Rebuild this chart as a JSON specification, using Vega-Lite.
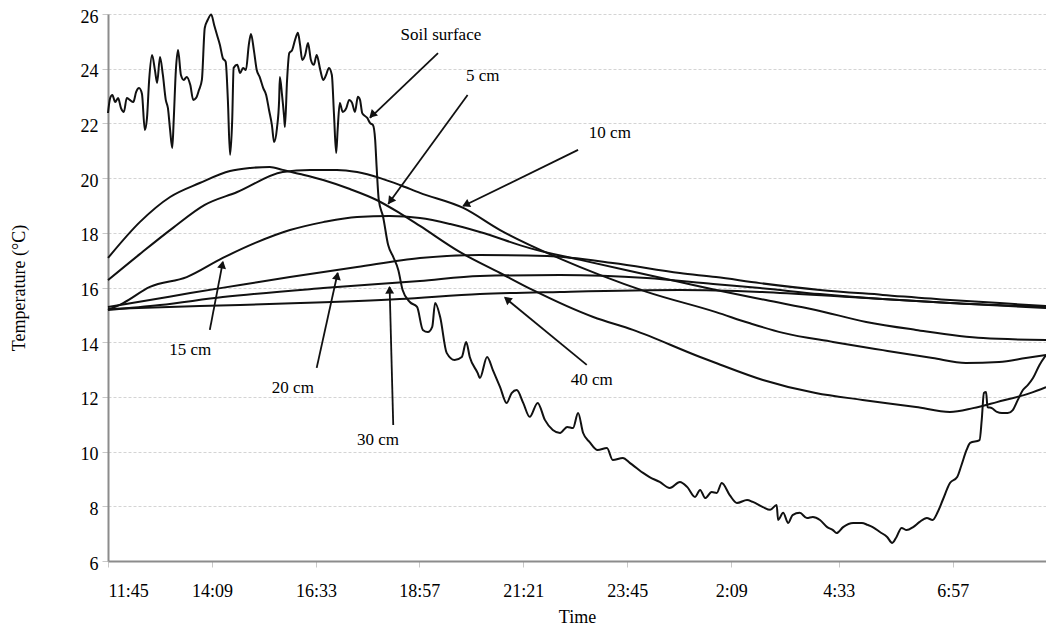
{
  "$schema": "https://vega.github.io/schema/vega-lite/v6.json",
  "width": 938,
  "height": 547,
  "autosize": {"type": "none"},
  "padding": {"left": 108, "top": 14, "right": 0, "bottom": 69},
  "background": "white",
  "config": {"view": {"stroke": null}, "font": "Liberation Serif"},
  "datasets": {
    "temps": [
      {"depth":"Soil surface","t":0,"temp":22.38},{"depth":"Soil surface","t":3,"temp":22.93},{"depth":"Soil surface","t":6,"temp":23.04},{"depth":"Soil surface","t":10,"temp":22.78},{"depth":"Soil surface","t":14,"temp":22.93},{"depth":"Soil surface","t":18,"temp":22.56},{"depth":"Soil surface","t":22,"temp":22.42},{"depth":"Soil surface","t":26,"temp":22.93},{"depth":"Soil surface","t":30,"temp":22.86},{"depth":"Soil surface","t":35,"temp":22.78},{"depth":"Soil surface","t":39,"temp":23.15},{"depth":"Soil surface","t":43,"temp":23.29},{"depth":"Soil surface","t":47,"temp":23.08},{"depth":"Soil surface","t":51,"temp":21.76},{"depth":"Soil surface","t":54,"temp":22.2},{"depth":"Soil surface","t":57,"temp":23.59},{"depth":"Soil surface","t":61,"temp":24.5},{"depth":"Soil surface","t":65,"temp":23.95},{"depth":"Soil surface","t":68,"temp":23.48},{"depth":"Soil surface","t":72,"temp":24.43},{"depth":"Soil surface","t":76,"temp":23.77},{"depth":"Soil surface","t":80,"temp":22.86},{"depth":"Soil surface","t":83,"temp":22.56},{"depth":"Soil surface","t":86,"temp":21.76},{"depth":"Soil surface","t":89,"temp":21.1},{"depth":"Soil surface","t":91,"temp":22.12},{"depth":"Soil surface","t":94,"temp":23.95},{"depth":"Soil surface","t":97,"temp":24.68},{"depth":"Soil surface","t":101,"temp":23.77},{"depth":"Soil surface","t":105,"temp":23.59},{"depth":"Soil surface","t":109,"temp":23.7},{"depth":"Soil surface","t":114,"temp":23.4},{"depth":"Soil surface","t":118,"temp":22.86},{"depth":"Soil surface","t":122,"temp":22.93},{"depth":"Soil surface","t":126,"temp":23.22},{"depth":"Soil surface","t":130,"temp":23.59},{"depth":"Soil surface","t":134,"temp":25.49},{"depth":"Soil surface","t":138,"temp":25.78},{"depth":"Soil surface","t":143,"temp":25.98},{"depth":"Soil surface","t":147,"temp":25.6},{"depth":"Soil surface","t":151,"temp":25.23},{"depth":"Soil surface","t":155,"temp":24.87},{"depth":"Soil surface","t":159,"temp":24.39},{"depth":"Soil surface","t":163,"temp":24.25},{"depth":"Soil surface","t":166,"temp":22.86},{"depth":"Soil surface","t":169,"temp":20.85},{"depth":"Soil surface","t":172,"temp":22.12},{"depth":"Soil surface","t":174,"temp":24.03},{"depth":"Soil surface","t":179,"temp":24.14},{"depth":"Soil surface","t":183,"temp":23.84},{"depth":"Soil surface","t":187,"temp":24.03},{"depth":"Soil surface","t":191,"temp":23.95},{"depth":"Soil surface","t":195,"temp":24.87},{"depth":"Soil surface","t":198,"temp":25.27},{"depth":"Soil surface","t":202,"temp":24.68},{"depth":"Soil surface","t":206,"temp":23.95},{"depth":"Soil surface","t":210,"temp":23.7},{"depth":"Soil surface","t":215,"temp":23.29},{"depth":"Soil surface","t":219,"temp":23.04},{"depth":"Soil surface","t":223,"temp":22.49},{"depth":"Soil surface","t":227,"temp":21.94},{"depth":"Soil surface","t":230,"temp":21.32},{"depth":"Soil surface","t":234,"temp":21.83},{"depth":"Soil surface","t":237,"temp":22.86},{"depth":"Soil surface","t":238,"temp":23.7},{"depth":"Soil surface","t":241,"temp":23.04},{"depth":"Soil surface","t":244,"temp":22.2},{"depth":"Soil surface","t":245,"temp":21.87},{"depth":"Soil surface","t":248,"temp":23.59},{"depth":"Soil surface","t":251,"temp":24.57},{"depth":"Soil surface","t":255,"temp":24.68},{"depth":"Soil surface","t":259,"temp":25.05},{"depth":"Soil surface","t":263,"temp":25.31},{"depth":"Soil surface","t":266,"temp":24.87},{"depth":"Soil surface","t":269,"temp":24.32},{"depth":"Soil surface","t":273,"temp":24.5},{"depth":"Soil surface","t":277,"temp":24.94},{"depth":"Soil surface","t":281,"temp":24.32},{"depth":"Soil surface","t":285,"temp":24.14},{"depth":"Soil surface","t":289,"temp":24.5},{"depth":"Soil surface","t":294,"temp":23.95},{"depth":"Soil surface","t":298,"temp":23.59},{"depth":"Soil surface","t":302,"temp":23.77},{"depth":"Soil surface","t":306,"temp":24.03},{"depth":"Soil surface","t":310,"temp":23.77},{"depth":"Soil surface","t":313,"temp":22.31},{"depth":"Soil surface","t":316,"temp":20.92},{"depth":"Soil surface","t":318,"temp":21.76},{"depth":"Soil surface","t":321,"temp":22.75},{"depth":"Soil surface","t":325,"temp":22.42},{"depth":"Soil surface","t":330,"temp":22.56},{"depth":"Soil surface","t":334,"temp":22.86},{"depth":"Soil surface","t":338,"temp":22.75},{"depth":"Soil surface","t":342,"temp":22.42},{"depth":"Soil surface","t":346,"temp":22.97},{"depth":"Soil surface","t":349,"temp":22.86},{"depth":"Soil surface","t":352,"temp":22.38},{"depth":"Soil surface","t":354,"temp":22.31},{"depth":"Soil surface","t":359,"temp":22.2},{"depth":"Soil surface","t":363,"temp":22.01},{"depth":"Soil surface","t":367,"temp":21.94},{"depth":"Soil surface","t":370,"temp":21.39},{"depth":"Soil surface","t":372,"temp":20.41},{"depth":"Soil surface","t":375,"temp":19.2},{"depth":"Soil surface","t":381,"temp":18.58},{"depth":"Soil surface","t":388,"temp":17.55},{"depth":"Soil surface","t":395,"temp":17.12},{"depth":"Soil surface","t":402,"temp":16.64},{"depth":"Soil surface","t":408,"temp":15.91},{"depth":"Soil surface","t":418,"temp":15.47},{"depth":"Soil surface","t":428,"temp":15.29},{"depth":"Soil surface","t":436,"temp":14.45},{"depth":"Soil surface","t":443,"temp":14.37},{"depth":"Soil surface","t":449,"temp":14.56},{"depth":"Soil surface","t":453,"temp":15.43},{"depth":"Soil surface","t":460,"temp":14.92},{"depth":"Soil surface","t":469,"temp":13.61},{"depth":"Soil surface","t":480,"temp":13.35},{"depth":"Soil surface","t":490,"temp":13.46},{"depth":"Soil surface","t":496,"temp":14.01},{"depth":"Soil surface","t":501,"temp":13.46},{"depth":"Soil surface","t":512,"temp":12.87},{"depth":"Soil surface","t":515,"temp":12.69},{"depth":"Soil surface","t":525,"temp":13.46},{"depth":"Soil surface","t":533,"temp":12.98},{"depth":"Soil surface","t":543,"temp":12.36},{"depth":"Soil surface","t":552,"temp":11.78},{"depth":"Soil surface","t":559,"temp":12.14},{"depth":"Soil surface","t":566,"temp":12.25},{"depth":"Soil surface","t":575,"temp":11.78},{"depth":"Soil surface","t":584,"temp":11.27},{"depth":"Soil surface","t":595,"temp":11.78},{"depth":"Soil surface","t":605,"temp":11.16},{"depth":"Soil surface","t":616,"temp":10.79},{"depth":"Soil surface","t":626,"temp":10.68},{"depth":"Soil surface","t":636,"temp":10.9},{"depth":"Soil surface","t":644,"temp":10.86},{"depth":"Soil surface","t":651,"temp":11.41},{"depth":"Soil surface","t":658,"temp":10.68},{"depth":"Soil surface","t":667,"temp":10.35},{"depth":"Soil surface","t":678,"temp":10.06},{"depth":"Soil surface","t":691,"temp":10.13},{"depth":"Soil surface","t":699,"temp":9.69},{"depth":"Soil surface","t":713,"temp":9.77},{"depth":"Soil surface","t":723,"temp":9.58},{"depth":"Soil surface","t":732,"temp":9.4},{"depth":"Soil surface","t":741,"temp":9.22},{"depth":"Soil surface","t":750,"temp":9.07},{"depth":"Soil surface","t":764,"temp":8.89},{"depth":"Soil surface","t":778,"temp":8.67},{"depth":"Soil surface","t":792,"temp":8.89},{"depth":"Soil surface","t":802,"temp":8.71},{"depth":"Soil surface","t":813,"temp":8.34},{"depth":"Soil surface","t":820,"temp":8.6},{"depth":"Soil surface","t":827,"temp":8.3},{"depth":"Soil surface","t":836,"temp":8.52},{"depth":"Soil surface","t":843,"temp":8.49},{"depth":"Soil surface","t":850,"temp":8.85},{"depth":"Soil surface","t":861,"temp":8.41},{"depth":"Soil surface","t":871,"temp":8.12},{"depth":"Soil surface","t":885,"temp":8.23},{"depth":"Soil surface","t":893,"temp":8.16},{"depth":"Soil surface","t":907,"temp":7.97},{"depth":"Soil surface","t":917,"temp":7.87},{"depth":"Soil surface","t":926,"temp":8.05},{"depth":"Soil surface","t":928,"temp":7.5},{"depth":"Soil surface","t":935,"temp":7.76},{"depth":"Soil surface","t":942,"temp":7.39},{"depth":"Soil surface","t":948,"temp":7.68},{"depth":"Soil surface","t":958,"temp":7.76},{"depth":"Soil surface","t":968,"temp":7.57},{"depth":"Soil surface","t":976,"temp":7.61},{"depth":"Soil surface","t":986,"temp":7.5},{"depth":"Soil surface","t":996,"temp":7.24},{"depth":"Soil surface","t":1004,"temp":7.13},{"depth":"Soil surface","t":1009,"temp":7.02},{"depth":"Soil surface","t":1018,"temp":7.24},{"depth":"Soil surface","t":1032,"temp":7.39},{"depth":"Soil surface","t":1044,"temp":7.39},{"depth":"Soil surface","t":1052,"temp":7.32},{"depth":"Soil surface","t":1059,"temp":7.24},{"depth":"Soil surface","t":1069,"temp":7.06},{"depth":"Soil surface","t":1079,"temp":6.88},{"depth":"Soil surface","t":1086,"temp":6.66},{"depth":"Soil surface","t":1092,"temp":6.88},{"depth":"Soil surface","t":1099,"temp":7.21},{"depth":"Soil surface","t":1106,"temp":7.13},{"depth":"Soil surface","t":1115,"temp":7.24},{"depth":"Soil surface","t":1124,"temp":7.43},{"depth":"Soil surface","t":1134,"temp":7.57},{"depth":"Soil surface","t":1142,"temp":7.5},{"depth":"Soil surface","t":1149,"temp":7.79},{"depth":"Soil surface","t":1156,"temp":8.23},{"depth":"Soil surface","t":1166,"temp":8.85},{"depth":"Soil surface","t":1176,"temp":9.07},{"depth":"Soil surface","t":1182,"temp":9.51},{"depth":"Soil surface","t":1189,"temp":10.06},{"depth":"Soil surface","t":1194,"temp":10.32},{"depth":"Soil surface","t":1207,"temp":10.42},{"depth":"Soil surface","t":1210,"temp":11.16},{"depth":"Soil surface","t":1213,"temp":12.14},{"depth":"Soil surface","t":1216,"temp":12.18},{"depth":"Soil surface","t":1218,"temp":11.63},{"depth":"Soil surface","t":1224,"temp":11.59},{"depth":"Soil surface","t":1231,"temp":11.45},{"depth":"Soil surface","t":1238,"temp":11.41},{"depth":"Soil surface","t":1246,"temp":11.41},{"depth":"Soil surface","t":1253,"temp":11.52},{"depth":"Soil surface","t":1260,"temp":11.89},{"depth":"Soil surface","t":1267,"temp":12.25},{"depth":"Soil surface","t":1274,"temp":12.44},{"depth":"Soil surface","t":1281,"temp":12.69},{"depth":"Soil surface","t":1290,"temp":13.17},{"depth":"Soil surface","t":1299,"temp":13.53},
      {"depth":"5 cm","t":0,"temp":17.08},{"depth":"5 cm","t":44,"temp":18.39},{"depth":"5 cm","t":86,"temp":19.31},{"depth":"5 cm","t":127,"temp":19.82},{"depth":"5 cm","t":169,"temp":20.26},{"depth":"5 cm","t":197,"temp":20.37},{"depth":"5 cm","t":224,"temp":20.41},{"depth":"5 cm","t":242,"temp":20.3},{"depth":"5 cm","t":266,"temp":20.15},{"depth":"5 cm","t":298,"temp":19.93},{"depth":"5 cm","t":335,"temp":19.6},{"depth":"5 cm","t":372,"temp":19.2},{"depth":"5 cm","t":404,"temp":18.72},{"depth":"5 cm","t":432,"temp":18.25},{"depth":"5 cm","t":487,"temp":17.3},{"depth":"5 cm","t":543,"temp":16.53},{"depth":"5 cm","t":588,"temp":15.91},{"depth":"5 cm","t":672,"temp":14.92},{"depth":"5 cm","t":727,"temp":14.45},{"depth":"5 cm","t":820,"temp":13.46},{"depth":"5 cm","t":842,"temp":13.24},{"depth":"5 cm","t":907,"temp":12.62},{"depth":"5 cm","t":980,"temp":12.14},{"depth":"5 cm","t":1045,"temp":11.89},{"depth":"5 cm","t":1119,"temp":11.63},{"depth":"5 cm","t":1166,"temp":11.45},{"depth":"5 cm","t":1198,"temp":11.59},{"depth":"5 cm","t":1231,"temp":11.81},{"depth":"5 cm","t":1277,"temp":12.14},{"depth":"5 cm","t":1299,"temp":12.36},
      {"depth":"10 cm","t":0,"temp":16.27},{"depth":"10 cm","t":44,"temp":17.22},{"depth":"10 cm","t":90,"temp":18.18},{"depth":"10 cm","t":134,"temp":19.02},{"depth":"10 cm","t":179,"temp":19.49},{"depth":"10 cm","t":242,"temp":20.22},{"depth":"10 cm","t":280,"temp":20.3},{"depth":"10 cm","t":317,"temp":20.3},{"depth":"10 cm","t":345,"temp":20.22},{"depth":"10 cm","t":377,"temp":20.0},{"depth":"10 cm","t":404,"temp":19.75},{"depth":"10 cm","t":432,"temp":19.46},{"depth":"10 cm","t":492,"temp":18.91},{"depth":"10 cm","t":543,"temp":18.1},{"depth":"10 cm","t":630,"temp":17.01},{"depth":"10 cm","t":681,"temp":16.46},{"depth":"10 cm","t":746,"temp":15.84},{"depth":"10 cm","t":842,"temp":15.1},{"depth":"10 cm","t":888,"temp":14.7},{"depth":"10 cm","t":935,"temp":14.34},{"depth":"10 cm","t":1004,"temp":14.01},{"depth":"10 cm","t":1073,"temp":13.71},{"depth":"10 cm","t":1142,"temp":13.42},{"depth":"10 cm","t":1188,"temp":13.24},{"depth":"10 cm","t":1234,"temp":13.28},{"depth":"10 cm","t":1271,"temp":13.42},{"depth":"10 cm","t":1299,"temp":13.53},
      {"depth":"15 cm","t":0,"temp":15.18},{"depth":"15 cm","t":21,"temp":15.43},{"depth":"15 cm","t":58,"temp":16.02},{"depth":"15 cm","t":109,"temp":16.38},{"depth":"15 cm","t":159,"temp":17.08},{"depth":"15 cm","t":204,"temp":17.63},{"depth":"15 cm","t":252,"temp":18.1},{"depth":"15 cm","t":298,"temp":18.39},{"depth":"15 cm","t":345,"temp":18.58},{"depth":"15 cm","t":390,"temp":18.61},{"depth":"15 cm","t":432,"temp":18.54},{"depth":"15 cm","t":474,"temp":18.32},{"depth":"15 cm","t":515,"temp":18.03},{"depth":"15 cm","t":584,"temp":17.44},{"depth":"15 cm","t":654,"temp":17.01},{"depth":"15 cm","t":723,"temp":16.6},{"depth":"15 cm","t":792,"temp":16.2},{"depth":"15 cm","t":842,"temp":15.91},{"depth":"15 cm","t":911,"temp":15.54},{"depth":"15 cm","t":980,"temp":15.18},{"depth":"15 cm","t":1050,"temp":14.74},{"depth":"15 cm","t":1119,"temp":14.45},{"depth":"15 cm","t":1212,"temp":14.15},{"depth":"15 cm","t":1299,"temp":14.08},
      {"depth":"20 cm","t":0,"temp":15.29},{"depth":"20 cm","t":58,"temp":15.54},{"depth":"20 cm","t":114,"temp":15.8},{"depth":"20 cm","t":183,"temp":16.09},{"depth":"20 cm","t":252,"temp":16.38},{"depth":"20 cm","t":345,"temp":16.75},{"depth":"20 cm","t":432,"temp":17.08},{"depth":"20 cm","t":515,"temp":17.19},{"depth":"20 cm","t":608,"temp":17.15},{"depth":"20 cm","t":699,"temp":16.9},{"depth":"20 cm","t":792,"temp":16.53},{"depth":"20 cm","t":842,"temp":16.38},{"depth":"20 cm","t":903,"temp":16.16},{"depth":"20 cm","t":986,"temp":15.91},{"depth":"20 cm","t":1073,"temp":15.73},{"depth":"20 cm","t":1166,"temp":15.54},{"depth":"20 cm","t":1235,"temp":15.43},{"depth":"20 cm","t":1299,"temp":15.32},
      {"depth":"30 cm","t":0,"temp":15.18},{"depth":"30 cm","t":72,"temp":15.36},{"depth":"30 cm","t":159,"temp":15.65},{"depth":"30 cm","t":298,"temp":15.98},{"depth":"30 cm","t":432,"temp":16.24},{"depth":"30 cm","t":515,"temp":16.42},{"depth":"30 cm","t":626,"temp":16.46},{"depth":"30 cm","t":746,"temp":16.35},{"depth":"30 cm","t":838,"temp":16.13},{"depth":"30 cm","t":903,"temp":15.98},{"depth":"30 cm","t":986,"temp":15.76},{"depth":"30 cm","t":1073,"temp":15.58},{"depth":"30 cm","t":1166,"temp":15.43},{"depth":"30 cm","t":1299,"temp":15.29},
      {"depth":"40 cm","t":0,"temp":15.21},{"depth":"40 cm","t":127,"temp":15.32},{"depth":"40 cm","t":266,"temp":15.43},{"depth":"40 cm","t":404,"temp":15.58},{"depth":"40 cm","t":515,"temp":15.76},{"depth":"40 cm","t":626,"temp":15.84},{"depth":"40 cm","t":792,"temp":15.91},{"depth":"40 cm","t":903,"temp":15.84},{"depth":"40 cm","t":1027,"temp":15.65},{"depth":"40 cm","t":1166,"temp":15.43},{"depth":"40 cm","t":1299,"temp":15.25}
    ],
    "notes": [
      {"label":"Soil surface","lx":461,"ly":25.23,"tx":457,"ty":24.57,"hx":363,"hy":22.2,"ax":367,"ay":22.34,"angle":226},
      {"label":"5 cm","lx":519,"ly":23.73,"tx":498,"ty":23.04,"hx":388,"hy":19.05,"ax":392,"ay":19.2,"angle":216},
      {"label":"10 cm","lx":695,"ly":21.65,"tx":651,"ty":21.03,"hx":492,"hy":18.98,"ax":497,"ay":19.05,"angle":244},
      {"label":"15 cm","lx":114,"ly":13.71,"tx":141,"ty":14.45,"hx":159,"hy":16.93,"ax":158,"ay":16.79,"angle":11},
      {"label":"20 cm","lx":256,"ly":12.33,"tx":289,"ty":13.06,"hx":318,"hy":16.53,"ax":317,"ay":16.38,"angle":12},
      {"label":"30 cm","lx":374,"ly":10.42,"tx":395,"ty":10.97,"hx":390,"hy":16.02,"ax":390,"ay":15.87,"angle":359},
      {"label":"40 cm","lx":670,"ly":12.62,"tx":663,"ty":13.17,"hx":550,"hy":15.62,"ax":554,"ay":15.54,"angle":309}
    ]
  },
  "layer": [
    {
      "mark": {"type": "rule", "color": "#a0a0a0", "strokeWidth": 2},
      "encoding": {"y": {"datum": 26}}
    },
    {
      "data": {"name": "temps"},
      "mark": {"type": "line", "color": "#111111", "strokeWidth": 2, "interpolate": "monotone"},
      "encoding": {
        "x": {
          "field": "t", "type": "quantitative",
          "scale": {"domain": [0, 1299], "nice": false, "zero": false},
          "axis": {
            "title": "Time",
            "values": [0, 144, 288, 431, 575, 719, 863, 1012, 1170],
            "labelExpr": "['11:45','14:09','16:33','18:57','21:21','23:45','2:09','4:33','6:57'][indexof([0,144,288,431,575,719,863,1012,1170], datum.value)]",
            "grid": false,
            "labelOverlap": false,
            "domainColor": "#8c8c8c", "domainWidth": 2,
            "tickColor": "#c8c8c8", "tickSize": 6,
            "labelPadding": 15, "labelFont": "Liberation Serif", "labelFontSize": 18, "labelColor": "#000000",
            "titleFont": "Liberation Serif", "titleFontSize": 18, "titleFontWeight": "normal", "titleColor": "#000000", "titlePadding": 8
          }
        },
        "y": {
          "field": "temp", "type": "quantitative",
          "scale": {"domain": [6, 26], "nice": false, "zero": false},
          "axis": {
            "title": "Temperature (°C)",
            "values": [6, 8, 10, 12, 14, 16, 18, 20, 22, 24, 26],
            "grid": true, "gridColor": "#d4d4d4", "gridDash": [3, 2], "gridWidth": 1,
            "domainColor": "#8c8c8c", "domainWidth": 2,
            "tickColor": "#c8c8c8", "tickSize": 6,
            "labelPadding": 4, "labelOffset": 3, "labelFont": "Liberation Serif", "labelFontSize": 18, "labelColor": "#000000",
            "titleFont": "Liberation Serif", "titleFontSize": 18, "titleFontWeight": "normal", "titleColor": "#000000", "titlePadding": 52
          }
        },
        "detail": {"field": "depth"}
      }
    },
    {
      "data": {"name": "notes"},
      "mark": {"type": "rule", "color": "#111111", "strokeWidth": 1.8},
      "encoding": {
        "x": {"field": "tx", "type": "quantitative"},
        "y": {"field": "ty", "type": "quantitative"},
        "x2": {"field": "hx"},
        "y2": {"field": "hy"}
      }
    },
    {
      "data": {"name": "notes"},
      "mark": {"type": "point", "shape": "triangle", "filled": true, "color": "#111111", "size": 80, "opacity": 1},
      "encoding": {
        "x": {"field": "ax", "type": "quantitative"},
        "y": {"field": "ay", "type": "quantitative"},
        "angle": {"field": "angle", "type": "quantitative", "scale": null}
      }
    },
    {
      "data": {"name": "notes"},
      "mark": {"type": "text", "font": "Liberation Serif", "fontSize": 17, "color": "#000000"},
      "encoding": {
        "x": {"field": "lx", "type": "quantitative"},
        "y": {"field": "ly", "type": "quantitative"},
        "text": {"field": "label"}
      }
    }
  ]
}
